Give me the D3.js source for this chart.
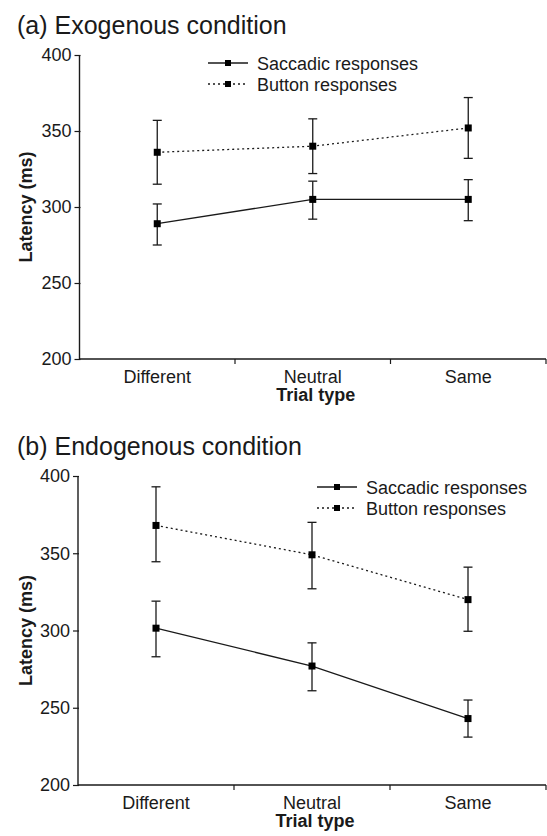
<!DOCTYPE html>
<html>
<head>
<meta charset="utf-8">
<script src="https://cdn.jsdelivr.net/npm/d3@7"></script>
<style>
  html, body { margin: 0; padding: 0; background: #fff; }
  svg { display: block; font-family: "Liberation Sans", Arial, Helvetica, sans-serif; }
</style>
</head>
<body>
<svg id="chart" width="547" height="836"></svg>
<script>
// ---- data ----
const categories = ["Different", "Neutral", "Same"];
const yTicks = [200, 250, 300, 350, 400];
const seriesNames = ["Saccadic responses", "Button responses"];

const exoSaccadic      = [289, 305, 305];
const exoSaccadicLow   = [275, 292, 291];
const exoSaccadicHigh  = [302, 317, 318];
const exoButton        = [336, 340, 352];
const exoButtonLow     = [315, 322, 332];
const exoButtonHigh    = [357, 358, 372];

const endoSaccadic     = [301.5, 277, 243];
const endoSaccadicLow  = [283, 261, 231];
const endoSaccadicHigh = [319, 292, 255];
const endoButton       = [368, 349, 320];
const endoButtonLow    = [344.5, 327, 299.5];
const endoButtonHigh   = [393, 370, 341];

const titles = ["(a) Exogenous condition", "(b) Endogenous condition"];
const xTitle = "Trial type";
const yTitle = "Latency (ms)";

// ---- layout ----
const svg = d3.select("#chart");
const ink = "#1a1a1a";

const panels = [
  { title: titles[0], top: 55, bottom: 359, left: 79.5, right: 546, titleY: 34,
    legendX: 208, legendY: 63,
    series: [
      { name: seriesNames[0], v: exoSaccadic, lo: exoSaccadicLow, hi: exoSaccadicHigh, dash: null },
      { name: seriesNames[1], v: exoButton, lo: exoButtonLow, hi: exoButtonHigh, dash: "2,3" }
    ] },
  { title: titles[1], top: 476, bottom: 785, left: 78, right: 546, titleY: 455,
    legendX: 317, legendY: 487,
    series: [
      { name: seriesNames[0], v: endoSaccadic, lo: endoSaccadicLow, hi: endoSaccadicHigh, dash: null },
      { name: seriesNames[1], v: endoButton, lo: endoButtonLow, hi: endoButtonHigh, dash: "2,3" }
    ] }
];

panels.forEach(p => {
  const g = svg.append("g");
  const x = d3.scaleBand().domain(categories).range([p.left, p.right]).padding(0);
  const y = d3.scaleLinear().domain([200, 400]).range([p.bottom, p.top]);

  // title
  g.append("text").attr("x", 17).attr("y", p.titleY)
    .attr("font-size", 25).attr("fill", ink).text(p.title);

  // y axis
  const yAxis = g.append("g").attr("transform", `translate(${p.left},0)`)
    .call(d3.axisLeft(y).tickValues(yTicks).tickSize(5).tickPadding(3).tickFormat(d3.format("d")));
  yAxis.select(".domain").attr("d", `M0,${p.top}V${p.bottom}`).attr("stroke", ink).attr("stroke-width", 1.4);
  yAxis.selectAll(".tick line").attr("stroke", ink).attr("stroke-width", 1.2).attr("x2", -5).attr("x1", 1);
  yAxis.selectAll(".tick text").attr("font-size", 18).attr("fill", ink)
    .attr("font-family", "Liberation Sans, Arial, sans-serif");

  // x axis
  const xAxis = g.append("g").attr("transform", `translate(0,${p.bottom})`)
    .call(d3.axisBottom(x).tickSize(0).tickPadding(11));
  xAxis.select(".domain").attr("d", `M${p.left},0H${p.right}`).attr("stroke", ink).attr("stroke-width", 1.4);
  xAxis.selectAll(".tick text").attr("font-size", 18).attr("fill", ink)
    .attr("font-family", "Liberation Sans, Arial, sans-serif");
  xAxis.selectAll(".bound").data(categories).enter().append("line")
    .attr("x1", d => x(d) + x.bandwidth()).attr("x2", d => x(d) + x.bandwidth())
    .attr("y1", 0).attr("y2", 5).attr("stroke", ink).attr("stroke-width", 1.2);

  // axis titles
  g.append("text").attr("x", (p.left + p.right) / 2 + 3).attr("y", p.bottom + 42)
    .attr("text-anchor", "middle").attr("font-size", 18).attr("font-weight", "bold")
    .attr("fill", ink).text(xTitle);
  g.append("text")
    .attr("transform", `translate(32,${(p.top + p.bottom) / 2}) rotate(-90)`)
    .attr("text-anchor", "middle").attr("font-size", 18).attr("font-weight", "bold")
    .attr("fill", ink).text(yTitle);

  const cx = d => x(d) + x.bandwidth() / 2;

  p.series.forEach(s => {
    const pts = categories.map((c, i) => ({ c, v: s.v[i], lo: s.lo[i], hi: s.hi[i] }));
    const line = d3.line().x(d => cx(d.c)).y(d => y(d.v));
    g.append("path").datum(pts).attr("d", line).attr("fill", "none")
      .attr("stroke", ink).attr("stroke-width", 1.3)
      .attr("stroke-dasharray", s.dash);
    // error bars
    const eb = g.selectAll(null).data(pts).enter().append("g");
    eb.append("line").attr("x1", d => cx(d.c)).attr("x2", d => cx(d.c))
      .attr("y1", d => y(d.lo)).attr("y2", d => y(d.hi))
      .attr("stroke", ink).attr("stroke-width", 1.3);
    eb.append("line").attr("x1", d => cx(d.c) - 4.5).attr("x2", d => cx(d.c) + 4.5)
      .attr("y1", d => y(d.hi)).attr("y2", d => y(d.hi))
      .attr("stroke", ink).attr("stroke-width", 1.3);
    eb.append("line").attr("x1", d => cx(d.c) - 4.5).attr("x2", d => cx(d.c) + 4.5)
      .attr("y1", d => y(d.lo)).attr("y2", d => y(d.lo))
      .attr("stroke", ink).attr("stroke-width", 1.3);
    // markers
    g.selectAll(null).data(pts).enter().append("rect")
      .attr("x", d => cx(d.c) - 3.5).attr("y", d => y(d.v) - 3.5)
      .attr("width", 7).attr("height", 7).attr("fill", "#000");
  });

  // legend
  const lg = g.append("g").attr("transform", `translate(${p.legendX},${p.legendY})`);
  p.series.forEach((s, i) => {
    const row = lg.append("g").attr("transform", `translate(0,${i * 21})`);
    row.append("line").attr("x1", 0).attr("x2", 40).attr("y1", 0).attr("y2", 0)
      .attr("stroke", ink).attr("stroke-width", 1.3).attr("stroke-dasharray", s.dash);
    row.append("rect").attr("x", 17).attr("y", -3).attr("width", 6).attr("height", 6).attr("fill", "#000");
    row.append("text").attr("x", 49).attr("y", 6.5).attr("font-size", 18).attr("fill", ink).text(s.name);
  });
});
</script>
</body>
</html>
